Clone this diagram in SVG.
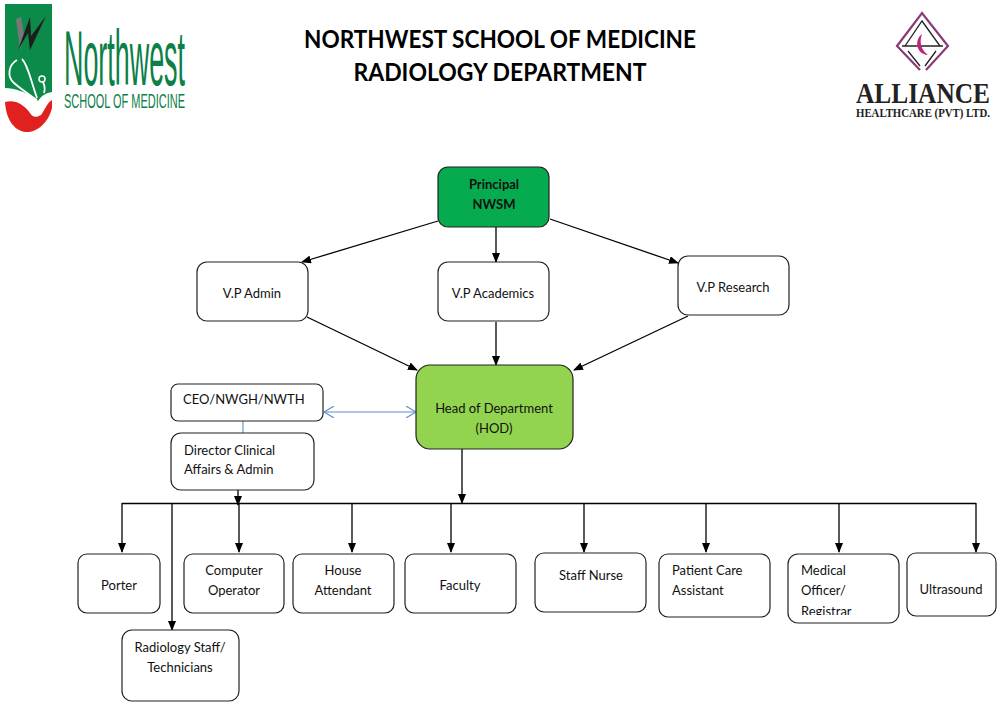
<svg xmlns="http://www.w3.org/2000/svg" width="1000" height="707" viewBox="0 0 1000 707">
<style>
text{font-family:Lato,"Liberation Sans",sans-serif;font-size:13px;fill:#111;text-anchor:middle}
text.l{text-anchor:start}
.n{fill:#fff;stroke:#222;stroke-width:1.2}
.c{fill:none;stroke:#000;stroke-width:1.3}
text.t{font-family:Lato,"Liberation Sans",sans-serif;font-weight:bold;font-size:24px;fill:#000}
text.g{font-family:"Liberation Sans",sans-serif;fill:#0b8048;text-anchor:start}
text.s{font-family:"Liberation Serif",serif;font-weight:bold;fill:#222}
</style>
<defs>
<marker id="a" markerWidth="10" markerHeight="8" refX="9" refY="4" orient="auto" markerUnits="userSpaceOnUse"><path d="M0 0L10 4L0 8Z" fill="#000"/></marker>
<marker id="b" markerWidth="11" markerHeight="12" refX="10" refY="6" orient="auto-start-reverse" markerUnits="userSpaceOnUse"><path d="M0 0L10 6L0 12" fill="none" stroke="#5b8fc9" stroke-width="1.1"/></marker>
<clipPath id="clip"><rect x="790" y="555" width="110" height="60"/></clipPath>
</defs>
<g id="logo-northwest">
<path d="M5 4H52V92C46 93 42 95 38 101C28 92 14 88 5 88Z" fill="#0b8a4a"/>
<path d="M5 102C14 99 24 104 30 113C32 117 36 118 41 115C45 110 46 104 52 100V108C48 124 36 133 25 132C13 130 6 118 5 102Z" fill="#e0211f"/>
<path d="M16 19L21 17L24 34L20 50Z" fill="#777"/>
<path d="M18 50L30 17L31 36L46 16L30 50L28 33Z" fill="#1d1d1b"/>
<path d="M17 60C8 65 7 77 14 83C22 90 30 95 37 100M22 59C28 65 30 78 37 98M43 82C45 86 45 90 44 93" fill="none" stroke="#fff" stroke-width="1.8"/>
<circle cx="42" cy="79" r="3" fill="none" stroke="#fff" stroke-width="1.5"/>
<text class="g" x="64" y="85" style="font-size:78px" textLength="121" lengthAdjust="spacingAndGlyphs">Northwest</text>
<text class="g" x="64" y="108" style="font-size:20px" textLength="121" lengthAdjust="spacingAndGlyphs">SCHOOL OF MEDICINE</text>
</g>
<g id="logo-alliance">
<path d="M920 70L897 46L922 13L948 46L926 70" fill="none" stroke="#8a3a78" stroke-width="2.2"/>
<path d="M905 46L922 21L940 46M908 51L920 66M936 51L925 66" fill="none" stroke="#222" stroke-width="1.3"/>
<path d="M902 46H943" stroke="#222" stroke-width="1.6"/>
<path d="M922 34C914 40 916 54 928 55C921 50 919 42 922 34Z" fill="#c2227f"/>
<text class="s" x="923" y="103" style="font-size:29px" textLength="134" lengthAdjust="spacingAndGlyphs">ALLIANCE</text>
<text class="s" x="923" y="117" style="font-size:12.500px" textLength="134" lengthAdjust="spacingAndGlyphs">HEALTHCARE (PVT) LTD.</text>
</g>
<text class="t" x="500" y="48" textLength="392" lengthAdjust="spacingAndGlyphs">NORTHWEST SCHOOL OF MEDICINE</text>
<text class="t" x="500" y="81" textLength="293" lengthAdjust="spacingAndGlyphs">RADIOLOGY DEPARTMENT</text>
<g id="connectors">
<path class="c" marker-end="url(#a)" d="M438 221L302 262"/>
<path class="c" marker-end="url(#a)" d="M496 227V262"/>
<path class="c" marker-end="url(#a)" d="M550 219L678 263"/>
<path class="c" marker-end="url(#a)" d="M307 317L417 370"/>
<path class="c" marker-end="url(#a)" d="M496 322V365"/>
<path class="c" marker-end="url(#a)" d="M688 316L574 370"/>
<path d="M324 412H416" fill="none" stroke="#5b8fc9" stroke-width="1.1" marker-start="url(#b)" marker-end="url(#b)"/>
<path d="M243 421V433" fill="none" stroke="#5b8fc9" stroke-width="1.1"/>
<path class="c" marker-end="url(#a)" d="M462 449V503"/>
<path class="c" marker-end="url(#a)" d="M238 490V505"/>
<path class="c" d="M122 503.500H976"/>
<path class="c" marker-end="url(#a)" d="M122 503V552"/>
<path class="c" marker-end="url(#a)" d="M172 503V630"/>
<path class="c" marker-end="url(#a)" d="M239 503V552"/>
<path class="c" marker-end="url(#a)" d="M352 503V552"/>
<path class="c" marker-end="url(#a)" d="M451 503V552"/>
<path class="c" marker-end="url(#a)" d="M584 503V552"/>
<path class="c" marker-end="url(#a)" d="M706 503V552"/>
<path class="c" marker-end="url(#a)" d="M839 503V552"/>
<path class="c" marker-end="url(#a)" d="M976 503V552"/>
</g>
<g id="principal"><rect x="438" y="167" width="111" height="60" rx="10" fill="#07ab4f" stroke="#222" stroke-width="1.2"/><text x="494" y="189" font-weight="bold">Principal</text><text x="494" y="209" font-weight="bold">NWSM</text></g>
<g id="vp-admin"><rect class="n" x="197" y="262" width="111" height="59" rx="10"/><text x="252" y="298">V.P Admin</text></g>
<g id="vp-academics"><rect class="n" x="438" y="262" width="111" height="59" rx="10"/><text x="493" y="298">V.P Academics</text></g>
<g id="vp-research"><rect class="n" x="678" y="256" width="111" height="59" rx="10"/><text x="733" y="292">V.P Research</text></g>
<g id="hod"><rect x="416" y="365" width="157" height="84" rx="14" fill="#92d44f" stroke="#222" stroke-width="1.2"/><text x="494" y="413">Head of Department</text><text x="494" y="433">(HOD)</text></g>
<g id="ceo"><rect class="n" x="171" y="384" width="152" height="37" rx="7"/><text class="l" x="183" y="404">CEO/NWGH/NWTH</text></g>
<g id="director"><rect class="n" x="171" y="433" width="143" height="57" rx="10"/><text class="l" x="184" y="455">Director Clinical</text><text class="l" x="184" y="474">Affairs &amp; Admin</text></g>
<g id="porter"><rect class="n" x="78" y="554" width="82" height="59" rx="9"/><text x="119" y="590">Porter</text></g>
<g id="computer-operator"><rect class="n" x="184" y="554" width="100" height="59" rx="9"/><text x="234" y="575">Computer</text><text x="234" y="595">Operator</text></g>
<g id="house-attendant"><rect class="n" x="293" y="554" width="101" height="59" rx="9"/><text x="343" y="575">House</text><text x="343" y="595">Attendant</text></g>
<g id="faculty"><rect class="n" x="405" y="554" width="111" height="59" rx="9"/><text x="460" y="590">Faculty</text></g>
<g id="staff-nurse"><rect class="n" x="535" y="553" width="111" height="59" rx="9"/><text x="591" y="580">Staff Nurse</text></g>
<g id="patient-care"><rect class="n" x="659" y="554" width="111" height="63" rx="9"/><text class="l" x="672" y="575">Patient Care</text><text class="l" x="672" y="595">Assistant</text></g>
<g id="medical-officer"><rect class="n" x="788" y="554" width="111" height="69" rx="10"/><text class="l" x="801" y="575">Medical</text><text class="l" x="801" y="595">Officer/</text><text class="l" x="801" y="616" clip-path="url(#clip)">Registrar</text></g>
<g id="ultrasound"><rect class="n" x="907" y="553" width="89" height="63" rx="9"/><text x="951" y="594">Ultrasound</text></g>
<g id="radiology-staff"><rect class="n" x="122" y="630" width="117" height="71" rx="10"/><text x="180" y="652">Radiology Staff/</text><text x="180" y="672">Technicians</text></g>
</svg>
